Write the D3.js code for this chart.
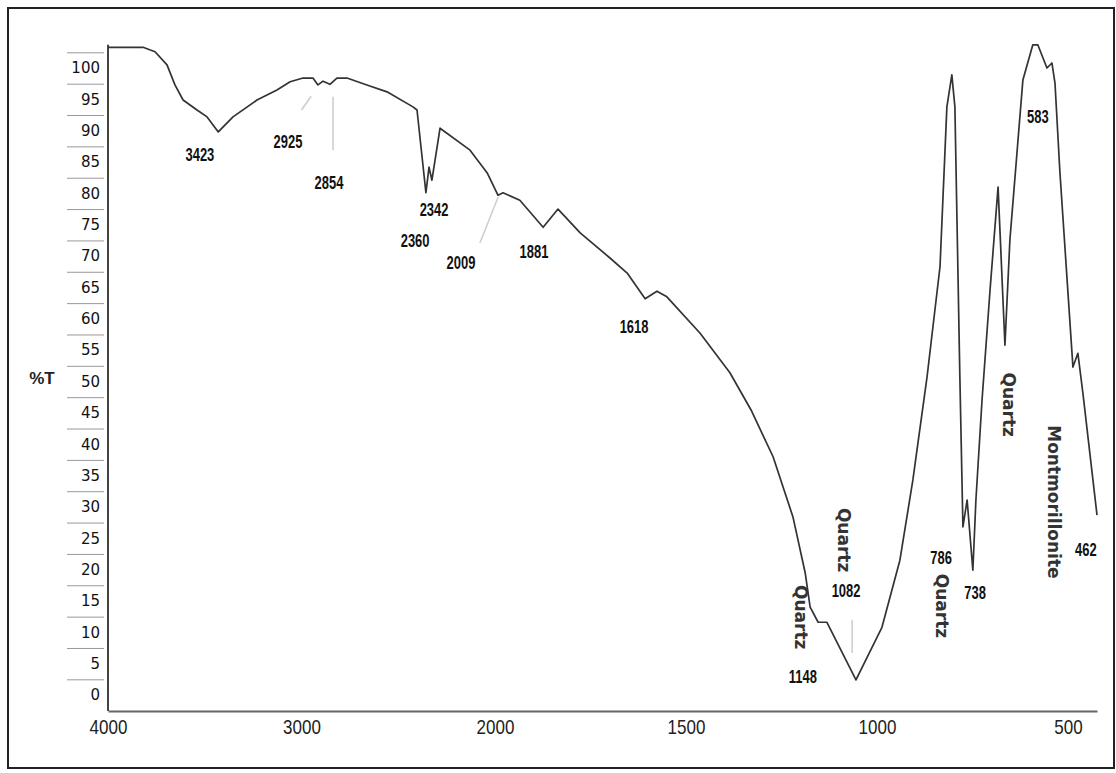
<!DOCTYPE html>
<html>
<head>
<meta charset="utf-8">
<script src="https://cdn.jsdelivr.net/npm/d3@7"></script>
<style>
body { margin: 0; background: #fff; }
</style>
</head>
<body>
<script>
// spectrum: wavenumber (cm-1) and %T
var wavenumber = [4000, 3819, 3757, 3695, 3654, 3612, 3540, 3488, 3430, 3354, 3230, 3127, 3059, 2992,
    2941, 2915, 2889, 2853, 2817, 2765, 2662, 2558, 2424, 2403, 2357, 2341, 2326, 2284, 2129, 2041,
    1992, 1979, 1935, 1874, 1835, 1777, 1699, 1654, 1607, 1576, 1550, 1463, 1385, 1330, 1272, 1220, 1188,
    1175, 1154, 1131, 1055, 987, 940, 906, 869, 835, 817, 804, 796, 783, 775, 764, 749, 741, 725,
    704, 683, 665, 652, 618, 592, 579, 555, 542, 534, 521, 487, 474, 461, 424];
var transmittance = [103.3, 103.3, 102.6, 100.5, 97.3, 94.9, 93.3, 92.2, 89.8, 92.2, 94.9, 96.5, 97.8, 98.4,
    98.4, 97.3, 97.9, 97.4, 98.4, 98.4, 97.3, 96.2, 93.8, 93.3, 80.1, 84.2, 82.1, 90.4, 86.9, 83.3,
    79.7, 80.1, 78.9, 74.6, 77.5, 73.7, 69.7, 67.3, 63.2, 64.4, 63.5, 57.7, 51.4, 45.5, 38.0, 28.4, 19.5,
    14.0, 11.6, 11.6, 2.4, 10.8, 21.5, 34.3, 50.7, 68.3, 93.8, 98.9, 93.8, 50.7, 26.8, 31.1, 19.9, 31.1, 47.0,
    64.6, 81.0, 55.8, 72.6, 98.1, 103.7, 103.7, 100.0, 100.8, 97.6, 83.3, 52.3, 54.5, 48.2, 28.7];

var yTickValues = d3.range(0, 101, 5);
var xTickValues = [4000, 3000, 2000, 1500, 1000, 500];

// peak numbers, placed in data units
var peakText = ["3423", "2925", "2854", "2342", "2360", "2009", "1881", "1618", "583", "1082", "1148", "786", "738", "462"];
var peakWn   = [3525, 3070, 2858, 2315, 2413, 2176, 1898, 1636, 579, 1081, 1194, 832, 743, 453];
var peakT    = [86.1, 88.2, 81.7, 77.4, 72.4, 68.9, 70.7, 58.7, 92.2, 16.7, 2.9, 21.9, 16.3, 23.1];

// mineral names, written vertically
var mineralText = ["Quartz", "Quartz", "Quartz", "Quartz", "Montmorillonite"];
var mineralWn   = [1086, 1199, 830, 654, 537];
var mineralT    = [24.7, 12.4, 14.2, 46.3, 30.8];

// faint leader lines [wn1, T1, wn2, T2]
var leaders = [[3000, 93.3, 2950, 95.5], [2837, 95.4, 2837, 86.9], [1992, 79.4, 2078, 72.1], [1065, 12.0, 1065, 6.7]];

var width = 1116, height = 773;

var svg = d3.select("body").append("svg")
    .attr("width", width)
    .attr("height", height);

// outer frame
svg.append("rect")
    .attr("x", 8).attr("y", 8)
    .attr("width", 1106).attr("height", 760)
    .attr("fill", "none")
    .attr("stroke", "#222")
    .attr("stroke-width", 2);

// x axis changes scale at 2000 cm-1
var x = d3.scaleLinear()
    .domain([4000, 2000, 424])
    .range([108, 495, 1097]);
var y = d3.scaleLinear()
    .domain([0, 100])
    .range([695, 68]);

var sans = "'Liberation Sans', Arial, sans-serif";

// short tick lines between the labels
var yLines = svg.append("g")
    .attr("transform", "translate(104,0)")
    .call(d3.axisLeft(y).tickValues(d3.range(2.5, 103, 5)).tickSize(37).tickFormat(""));
yLines.select(".domain").remove();
yLines.selectAll("line").attr("stroke", "#999").attr("stroke-width", 1);

var yAxis = svg.append("g")
    .attr("transform", "translate(108,0)")
    .call(d3.axisLeft(y).tickValues(yTickValues).tickSize(0).tickPadding(8));
yAxis.select(".domain").remove();
yAxis.selectAll("text")
    .attr("font-family", "'DejaVu Sans', sans-serif")
    .attr("font-size", 15)
    .attr("fill", "#111");

svg.append("line")
    .attr("x1", 108).attr("x2", 108)
    .attr("y1", y(103.7)).attr("y2", y(-2.55))
    .attr("stroke", "#444").attr("stroke-width", 2);

var xAxis = svg.append("g")
    .attr("transform", "translate(0," + y(-2.55) + ")")
    .call(d3.axisBottom(x).tickValues(xTickValues).tickSize(0).tickPadding(9).tickFormat(d3.format("d")));
xAxis.select(".domain").attr("stroke", "#666").attr("stroke-width", 2);
xAxis.selectAll("text")
    .attr("font-family", sans)
    .attr("font-size", 20)
    .attr("transform", "scale(0.85,1)")
    .attr("fill", "#222");

svg.append("text")
    .attr("x", 42).attr("y", 378)
    .attr("text-anchor", "middle")
    .attr("dy", "0.35em")
    .attr("font-family", sans)
    .attr("font-size", 17)
    .attr("font-weight", "bold")
    .attr("fill", "#222")
    .text("%T");

// leader lines
svg.selectAll(".leader").data(leaders).enter().append("line")
    .attr("class", "leader")
    .attr("x1", function(d) { return x(d[0]); })
    .attr("y1", function(d) { return y(d[1]); })
    .attr("x2", function(d) { return x(d[2]); })
    .attr("y2", function(d) { return y(d[3]); })
    .attr("stroke", "#ccc")
    .attr("stroke-width", 1.5);

// spectrum
var line = d3.line()
    .x(function(d, i) { return x(wavenumber[i]); })
    .y(function(d) { return y(d); });

svg.append("path")
    .datum(transmittance)
    .attr("d", line)
    .attr("fill", "none")
    .attr("stroke", "#333")
    .attr("stroke-width", 1.7)
    .attr("stroke-linejoin", "round");

// peak numbers (narrow, tall digits)
svg.selectAll(".peak").data(peakText).enter().append("text")
    .attr("class", "peak")
    .attr("transform", function(d, i) {
        return "translate(" + x(peakWn[i]) + "," + y(peakT[i]) + ") scale(0.72,1)";
    })
    .attr("text-anchor", "middle")
    .attr("dy", "0.35em")
    .attr("font-family", sans)
    .attr("font-size", 18)
    .attr("font-weight", "bold")
    .attr("fill", "#111")
    .text(function(d) { return d; });

// mineral names
svg.selectAll(".mineral").data(mineralText).enter().append("text")
    .attr("class", "mineral")
    .attr("transform", function(d, i) {
        return "translate(" + x(mineralWn[i]) + "," + y(mineralT[i]) + ") rotate(90)";
    })
    .attr("text-anchor", "middle")
    .attr("dy", "0.35em")
    .attr("font-family", "'DejaVu Sans', sans-serif")
    .attr("font-weight", "bold")
    .attr("font-size", 17)
    .attr("fill", "#333")
    .text(function(d) { return d; });
</script>
</body>
</html>
